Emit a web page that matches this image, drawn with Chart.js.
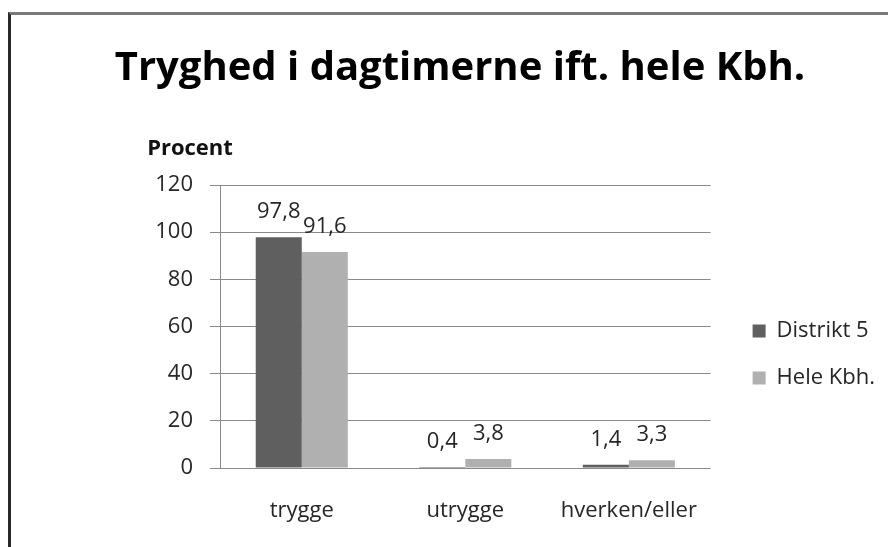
<!DOCTYPE html>
<html>
<head>
<meta charset="utf-8">
<script src="https://cdn.jsdelivr.net/npm/chart.js@4.4.0/dist/chart.umd.min.js"></script>
<style>
  html, body { margin: 0; padding: 0; background: #fff; }
  #wrap { position: relative; width: 888px; height: 547px; overflow: hidden; }
  #frame {
    position: absolute; left: 8px; top: 12px; right: -2px; bottom: -2px;
    border-left: 3px solid #2a2a2a; border-top: 3px solid #7a7a7a;
    pointer-events: none;
  }
  canvas { position: absolute; left: 0; top: 0; }
</style>
</head>
<body>
<div id="wrap">
  <canvas id="chart" width="888" height="547"></canvas>
  <div id="frame"></div>
</div>
<script>
// data
var categories = ['trygge', 'utrygge', 'hverken/eller'];
var distrikt5 = [97.8, 0.4, 1.4];
var heleKbh = [91.6, 3.8, 3.3];
var yTicks = [0, 20, 40, 60, 80, 100, 120];

var FONT = "'Open Sans', 'Noto Sans', sans-serif";

// value labels above the bars, danish decimal comma
var barLabels = {
  id: 'barLabels',
  afterDatasetsDraw: function(chart) {
    var ctx = chart.ctx;
    ctx.save();
    ctx.font = '22px ' + FONT;
    ctx.fillStyle = '#262626';
    ctx.textAlign = 'center';
    ctx.textBaseline = 'alphabetic';
    chart.data.datasets.forEach(function(ds, i) {
      var meta = chart.getDatasetMeta(i);
      meta.data.forEach(function(bar, j) {
        var txt = String(ds.data[j]).replace('.', ',');
        ctx.fillText(txt, bar.x, bar.y - 19);
      });
    });
    ctx.restore();
  }
};

// "Procent" over the y axis
var axisCaption = {
  id: 'axisCaption',
  afterDraw: function(chart) {
    var ctx = chart.ctx;
    var area = chart.chartArea;
    ctx.save();
    ctx.font = 'bold 22px ' + FONT;
    ctx.fillStyle = '#111';
    ctx.textAlign = 'center';
    ctx.textBaseline = 'middle';
    ctx.fillText('Procent', area.left - 30, area.top - 36);
    ctx.restore();
  }
};

// nudge the legend and title to where Excel put them
var boxShift = {
  id: 'boxShift',
  afterLayout: function(chart) {
    var lg = chart.legend;
    if (lg) {
      lg.left += 17; lg.right += 17;
      lg.top += 81; lg.bottom += 81;
    }
    var tb = chart.titleBlock;
    if (tb) {
      tb.left += 12; tb.right += 12;
    }
  }
};

new Chart(document.getElementById('chart'), {
  type: 'bar',
  data: {
    labels: categories,
    datasets: [
      { label: 'Distrikt 5', data: distrikt5, backgroundColor: '#5f5f5f' },
      { label: 'Hele Kbh.', data: heleKbh, backgroundColor: '#b0b0b0' }
    ]
  },
  plugins: [barLabels, axisCaption, boxShift],
  options: {
    responsive: false,
    animation: false,
    events: [],
    categoryPercentage: 0.563,
    barPercentage: 1,
    layout: { padding: { left: 28, right: 20, top: 0, bottom: 0 } },
    plugins: {
      title: {
        display: true,
        text: 'Tryghed i dagtimerne ift. hele Kbh.',
        color: '#000',
        font: { family: FONT, size: 40, weight: 'bold' },
        padding: { top: 45, bottom: 92 }
      },
      legend: {
        position: 'right',
        labels: {
          boxWidth: 13,
          boxHeight: 13,
          padding: 25,
          color: '#262626',
          font: { family: FONT, size: 22 }
        }
      },
      tooltip: { enabled: false }
    },
    scales: {
      x: {
        afterFit: function(scale) { scale.height = 79; },
        grid: { display: false, drawTicks: false },
        border: { display: false },
        ticks: { color: '#262626', padding: 30, font: { family: FONT, size: 22 } }
      },
      y: {
        min: 0,
        max: 120,
        afterFit: function(scale) { scale.width = 192; },
        afterBuildTicks: function(scale) {
          scale.ticks = yTicks.map(function(v) { return { value: v }; });
        },
        grid: { color: '#8a8a8a', tickLength: 10 },
        border: { color: '#8a8a8a' },
        ticks: { color: '#262626', padding: 17, font: { family: FONT, size: 22 } }
      }
    }
  }
});
</script>
</body>
</html>
